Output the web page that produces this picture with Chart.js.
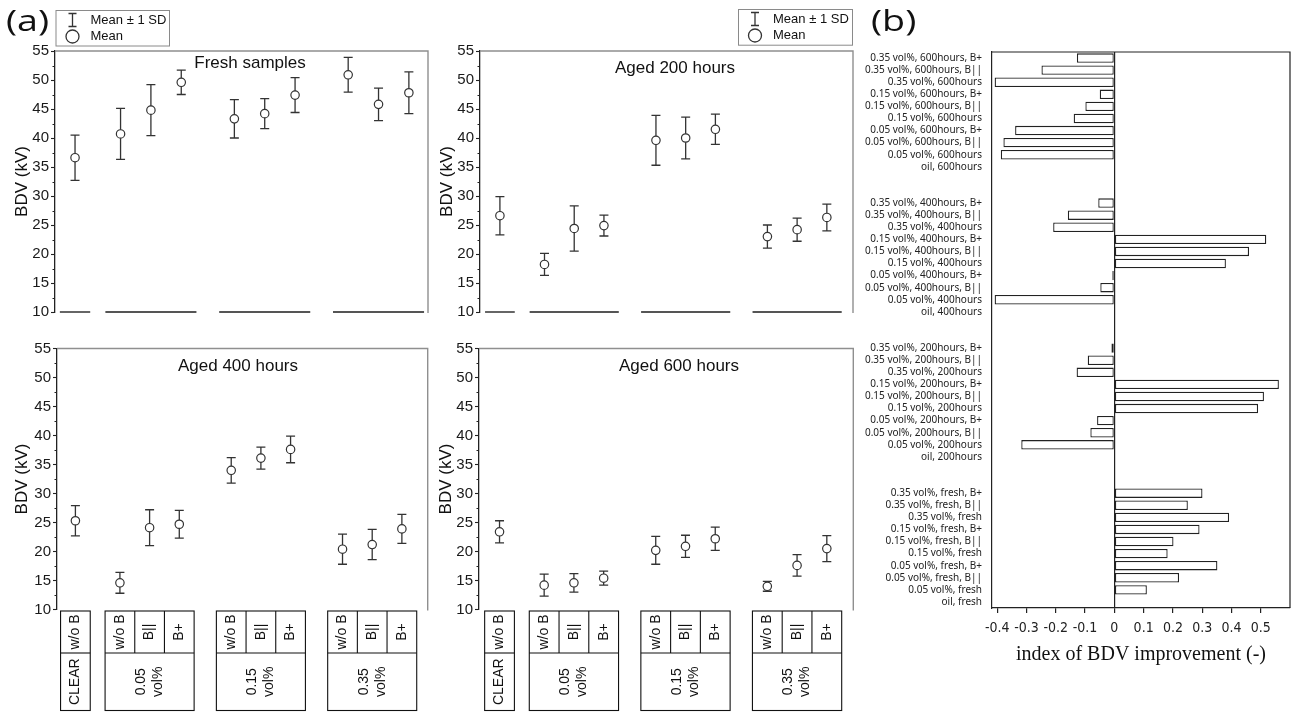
<!DOCTYPE html>
<html><head><meta charset="utf-8">
<script src="https://cdn.jsdelivr.net/npm/chart.js@4.4.1/dist/chart.umd.min.js"></script>
<style>
html,body{margin:0;padding:0;background:#fff;}
body{width:1297px;height:712px;position:relative;overflow:hidden;}
canvas{position:absolute;}
</style></head><body>
<canvas id="cTL" width="440" height="330" style="left:0;top:0"></canvas>
<canvas id="cTR" width="440" height="330" style="left:425px;top:0"></canvas>
<canvas id="cBL" width="440" height="387" style="left:0;top:325px"></canvas>
<canvas id="cBR" width="441" height="387" style="left:424px;top:325px"></canvas>
<canvas id="cB" width="437" height="712" style="left:860px;top:0"></canvas>
<script>
// ---------- DATA : panel (a) ----------
// x positions of the ten samples: CLEAR | 0.05 vol% (w/o B, B||, B+) | 0.15 vol% (...) | 0.35 vol% (...)
const samplePos = [0, 1.5, 2.5, 3.5, 5.25, 6.25, 7.25, 9, 10, 11];
const freshMean = [36.6, 40.7, 44.8, 49.6, 43.3, 44.2, 47.4, 50.9, 45.8, 47.8];
const freshSD   = [3.9, 4.4, 4.4, 2.1, 3.3, 2.6, 3.0, 3.0, 2.8, 3.6];
const aged200Mean = [26.6, 18.2, 24.4, 24.9, 39.6, 40.0, 41.5, 23.0, 24.2, 26.3];
const aged200SD   = [3.3, 1.9, 3.9, 1.8, 4.3, 3.6, 2.6, 2.0, 2.0, 2.3];
const aged400Mean = [25.3, 14.6, 24.1, 24.7, 34.0, 36.1, 37.6, 20.4, 21.2, 23.9];
const aged400SD   = [2.6, 1.8, 3.1, 2.4, 2.2, 1.9, 2.3, 2.6, 2.6, 2.5];
const aged600Mean = [23.4, 14.2, 14.6, 15.4, 20.2, 20.9, 22.2, 14.0, 17.6, 20.5];
const aged600SD   = [1.9, 1.9, 1.6, 1.2, 2.4, 1.9, 2.0, 0.85, 1.85, 2.25];
const yTicksA = [10, 15, 20, 25, 30, 35, 40, 45, 50, 55];
const yMinorA = [12.5, 17.5, 22.5, 27.5, 32.5, 37.5, 42.5, 47.5, 52.5];
// category table under the panels
const groupFrom   = [-0.5, 1, 4.75, 8.5];
const groupTo     = [0.5, 4, 7.75, 11.5];
const groupLabels = [['CLEAR'], ['0.05', 'vol%'], ['0.15', 'vol%'], ['0.35', 'vol%']];
const groupCells  = [['w/o B'], ['w/o B', 'B||', 'B+'], ['w/o B', 'B||', 'B+'], ['w/o B', 'B||', 'B+']];
const legendTexts = ['Mean \u00b1 1 SD', 'Mean'];

// ---------- DATA : panel (b) ----------
const bLabels = [
 '0.35 vol%, 600hours, B+','0.35 vol%, 600hours, B||','0.35 vol%, 600hours',
 '0.15 vol%, 600hours, B+','0.15 vol%, 600hours, B||','0.15 vol%, 600hours',
 '0.05 vol%, 600hours, B+','0.05 vol%, 600hours, B||','0.05 vol%, 600hours','oil, 600hours',
 '','',
 '0.35 vol%, 400hours, B+','0.35 vol%, 400hours, B||','0.35 vol%, 400hours',
 '0.15 vol%, 400hours, B+','0.15 vol%, 400hours, B||','0.15 vol%, 400hours',
 '0.05 vol%, 400hours, B+','0.05 vol%, 400hours, B||','0.05 vol%, 400hours','oil, 400hours',
 '','',
 '0.35 vol%, 200hours, B+','0.35 vol%, 200hours, B||','0.35 vol%, 200hours',
 '0.15 vol%, 200hours, B+','0.15 vol%, 200hours, B||','0.15 vol%, 200hours',
 '0.05 vol%, 200hours, B+','0.05 vol%, 200hours, B||','0.05 vol%, 200hours','oil, 200hours',
 '','',
 '0.35 vol%, fresh, B+','0.35 vol%, fresh, B||','0.35 vol%, fresh',
 '0.15 vol%, fresh, B+','0.15 vol%, fresh, B||','0.15 vol%, fresh',
 '0.05 vol%, fresh, B+','0.05 vol%, fresh, B||','0.05 vol%, fresh','oil, fresh'
];
const bValues = [
 -0.128, -0.249, -0.409, -0.050, -0.099, -0.139, -0.339, -0.379, -0.388, 0,
 null, null,
 -0.055, -0.159, -0.209, 0.519, 0.460, 0.381, -0.007, -0.048, -0.409, 0,
 null, null,
 -0.010, -0.091, -0.129, 0.562, 0.511, 0.491, -0.059, -0.082, -0.318, 0,
 null, null,
 0.301, 0.251, 0.392, 0.291, 0.202, 0.182, 0.352, 0.221, 0.111, 0
];
const bTicks = [-0.4, -0.3, -0.2, -0.1, 0, 0.1, 0.2, 0.3, 0.4, 0.5];

// ---------- plugins ----------
const SANS = '"Liberation Sans", Arial, sans-serif';
const LETTER_FONT = '29px "Open Sans", "Noto Sans", sans-serif';
const errorBars = {
  id: 'errorBars',
  beforeDatasetsDraw(chart) {
    const {ctx, scales: {x, y}} = chart;
    chart.data.datasets.forEach(ds => {
      if (!ds.sd) return;
      ctx.save();
      ctx.strokeStyle = '#333'; ctx.lineWidth = 1.3;
      ds.data.forEach((p, i) => {
        const px = x.getPixelForValue(p.x);
        const t = y.getPixelForValue(p.y + ds.sd[i]);
        const b = y.getPixelForValue(p.y - ds.sd[i]);
        ctx.beginPath();
        ctx.moveTo(px, t); ctx.lineTo(px, b);
        ctx.moveTo(px - 4.5, t); ctx.lineTo(px + 4.5, t);
        ctx.moveTo(px - 4.5, b); ctx.lineTo(px + 4.5, b);
        ctx.stroke();
      });
      ctx.restore();
    });
  }
};

function drawLetter(ctx, text, x, y) {
  ctx.save();
  ctx.fillStyle = '#111'; ctx.font = LETTER_FONT;
  ctx.textAlign = 'left'; ctx.textBaseline = 'alphabetic';
  ctx.translate(x, y); ctx.scale(1.3, 1);
  ctx.fillText(text, 0, 0);
  ctx.restore();
}

function drawLegend(ctx, L) {
  ctx.strokeStyle = '#8a8a8a'; ctx.lineWidth = 1;
  ctx.strokeRect(L.x + 0.5, L.y + 0.5, L.w, L.h);
  const sx = L.x + 17;
  ctx.strokeStyle = '#333'; ctx.lineWidth = 1.3;
  ctx.beginPath();
  ctx.moveTo(sx, L.y + 3.5); ctx.lineTo(sx, L.y + 16.5);
  ctx.moveTo(sx - 4, L.y + 3.5); ctx.lineTo(sx + 4, L.y + 3.5);
  ctx.moveTo(sx - 4, L.y + 16.5); ctx.lineTo(sx + 4, L.y + 16.5);
  ctx.stroke();
  ctx.beginPath(); ctx.arc(sx, L.y + 26.5, 6.5, 0, Math.PI * 2);
  ctx.fillStyle = '#fff'; ctx.fill(); ctx.stroke();
  ctx.fillStyle = '#111'; ctx.font = '13px ' + SANS;
  ctx.textAlign = 'left'; ctx.textBaseline = 'middle';
  ctx.fillText(legendTexts[0], L.x + 35, L.y + 10);
  ctx.fillText(legendTexts[1], L.x + 35, L.y + 26.5);
}

const panelDecor = {
  id: 'panelDecor',
  afterDraw(chart, args, o) {
    const {ctx, chartArea: a, scales: {x, y}} = chart;
    ctx.save();
    // frame (top + right)
    ctx.strokeStyle = '#8f8f8f'; ctx.lineWidth = 1.4;
    ctx.beginPath(); ctx.moveTo(a.left, a.top); ctx.lineTo(a.right, a.top); ctx.lineTo(a.right, a.bottom + 1); ctx.stroke();
    // minor ticks
    ctx.strokeStyle = '#222'; ctx.lineWidth = 1;
    yMinorA.forEach(v => { const py = Math.round(y.getPixelForValue(v)) + 0.5; ctx.beginPath(); ctx.moveTo(a.left - 2.5, py); ctx.lineTo(a.left, py); ctx.stroke(); });
    // title
    ctx.fillStyle = '#111'; ctx.font = '17px ' + SANS; ctx.textAlign = 'center'; ctx.textBaseline = 'middle';
    ctx.fillText(o.title, a.left + o.titleDX, a.top + o.titleDY);
    // groups / table
    if (!o.table) {
      ctx.strokeStyle = '#555'; ctx.lineWidth = 1.8;
      groupFrom.forEach((f, i) => {
        ctx.beginPath(); ctx.moveTo(x.getPixelForValue(f), a.bottom); ctx.lineTo(x.getPixelForValue(groupTo[i]), a.bottom); ctx.stroke();
      });
    } else {
      const top = a.bottom + 1.5, mid = a.bottom + 43.5, bot = chart.height - 1.5;
      ctx.strokeStyle = '#111'; ctx.lineWidth = 1.1;
      ctx.fillStyle = '#111'; ctx.font = '14px ' + SANS; ctx.textAlign = 'center'; ctx.textBaseline = 'middle';
      groupFrom.forEach((f, i) => {
        const x0 = x.getPixelForValue(f), x1 = x.getPixelForValue(groupTo[i]);
        ctx.strokeRect(x0, top, x1 - x0, bot - top);
        ctx.beginPath(); ctx.moveTo(x0, mid); ctx.lineTo(x1, mid); ctx.stroke();
        const cells = groupCells[i], n = cells.length, cw = (x1 - x0) / n;
        cells.forEach((c, j) => {
          if (j > 0) { ctx.beginPath(); ctx.moveTo(x0 + j * cw, top); ctx.lineTo(x0 + j * cw, mid); ctx.stroke(); }
          ctx.save(); ctx.translate(x0 + (j + 0.5) * cw, (top + mid) / 2); ctx.rotate(-Math.PI / 2);
          ctx.fillText(c, 0, 0); ctx.restore();
        });
        const lines = groupLabels[i], lh = 17;
        ctx.save(); ctx.translate((x0 + x1) / 2, (mid + bot) / 2); ctx.rotate(-Math.PI / 2);
        lines.forEach((t, k) => ctx.fillText(t, 0, (k - (lines.length - 1) / 2) * lh));
        ctx.restore();
      });
    }
    if (o.legend) drawLegend(ctx, o.legend);
    if (o.letter) drawLetter(ctx, o.letter.text, o.letter.x, o.letter.y);
    ctx.restore();
  }
};

function makePanel(id, mean, sd, cfg) {
  return new Chart(document.getElementById(id), {
    type: 'scatter',
    data: { datasets: [{
      data: samplePos.map((p, i) => ({x: p, y: mean[i]})),
      sd: sd,
      pointRadius: 4.2, pointBorderWidth: 1.2,
      pointBackgroundColor: '#fff', pointBorderColor: '#333'
    }]},
    options: {
      responsive: false, animation: false, events: [],
      layout: { padding: cfg.pad },
      plugins: { legend: {display: false}, tooltip: {enabled: false}, panelDecor: cfg.decor },
      scales: {
        x: { type: 'linear', min: cfg.xmin, max: cfg.xmax, display: false },
        y: {
          min: 10, max: 55,
          afterBuildTicks: s => { s.ticks = yTicksA.map(v => ({value: v})); },
          afterFit: s => { s.width = cfg.yw; },
          ticks: { font: {family: SANS, size: 15}, color: '#1a1a1a', padding: 2 },
          grid: { drawOnChartArea: false, tickLength: 4, tickColor: '#222', tickWidth: 1.1 },
          border: { color: '#222', width: 1.3 },
          title: { display: true, text: 'BDV (kV)', font: {family: SANS, size: 17}, color: '#111', padding: {top: cfg.titlePad, bottom: 0} }
        }
      }
    },
    plugins: [errorBars, panelDecor]
  });
}

makePanel('cTL', freshMean, freshSD, {
  xmin: -0.66, xmax: 11.63, yw: 55, titlePad: 12,
  pad: {top: 51, right: 12, bottom: 18, left: 0},
  decor: {title: 'Fresh samples', titleDX: 195, titleDY: 12, table: false,
          legend: {x: 55.5, y: 10, w: 113.5, h: 35.5}, letter: {text: '(a)', x: 6, y: 31}}
});
makePanel('cTR', aged200Mean, aged200SD, {
  xmin: -0.67, xmax: 11.88, yw: 55, titlePad: 12,
  pad: {top: 51, right: 12, bottom: 18, left: 0},
  decor: {title: 'Aged 200 hours', titleDX: 195, titleDY: 17, table: false,
          legend: {x: 313, y: 9, w: 114, h: 35.7}}
});
makePanel('cBL', aged400Mean, aged400SD, {
  xmin: -0.62, xmax: 11.87, yw: 57, titlePad: 12,
  pad: {top: 23.5, right: 12.3, bottom: 102.5, left: 0},
  decor: {title: 'Aged 400 hours', titleDX: 181, titleDY: 18, table: true}
});
makePanel('cBR', aged600Mean, aged600SD, {
  xmin: -0.69, xmax: 11.89, yw: 55, titlePad: 12,
  pad: {top: 23.5, right: 11.7, bottom: 102.5, left: 0},
  decor: {title: 'Aged 600 hours', titleDX: 200, titleDY: 18, table: true}
});

// ---------- panel (b) ----------
const frameB = {
  id: 'frameB',
  afterDraw(chart) {
    const {ctx, chartArea: a} = chart;
    ctx.save();
    ctx.strokeStyle = '#222'; ctx.lineWidth = 1.2;
    ctx.beginPath(); ctx.moveTo(a.left, a.top); ctx.lineTo(a.right, a.top); ctx.lineTo(a.right, a.bottom); ctx.stroke();
    ctx.restore();
    drawLetter(ctx, '(b)', 11, 31);
  }
};
new Chart(document.getElementById('cB'), {
  type: 'bar',
  data: { labels: bLabels, datasets: [{
    data: bValues, backgroundColor: '#fff', borderColor: '#222', borderWidth: 1.3,
    borderSkipped: false, barPercentage: 0.78, categoryPercentage: 1
  }]},
  options: {
    indexAxis: 'y', responsive: false, animation: false, events: [],
    layout: { padding: {top: 52, right: 7, left: 0, bottom: 0} },
    plugins: { legend: {display: false}, tooltip: {enabled: false} },
    scales: {
      x: {
        type: 'linear', min: -0.418, max: 0.6,
        afterBuildTicks: s => { s.ticks = bTicks.map(v => ({value: v})); },
        afterFit: s => { s.height = 104; },
        ticks: { callback: v => (Math.abs(v) < 1e-9 ? '0' : v.toFixed(1)), maxRotation: 0, autoSkip: false,
                 font: {family: '"Liberation Sans Narrow", "DejaVu Sans Condensed", "Liberation Sans", sans-serif', size: 14}, color: '#222', padding: 7 },
        grid: { color: c => (c.tick && Math.abs(c.tick.value) < 1e-9 ? '#222' : 'rgba(0,0,0,0)'),
                lineWidth: 1.2, tickColor: '#222', tickLength: 5, drawOnChartArea: true },
        border: { color: '#222', width: 1.2 },
        title: { display: true, text: 'index of BDV improvement (-)', color: '#111',
                 font: {family: '"Liberation Serif", "DejaVu Serif", serif', size: 20}, padding: {top: 0, bottom: 45} }
      },
      y: {
        afterFit: s => { s.width = 132; },
        ticks: { autoSkip: false, font: {family: '"Noto Sans", sans-serif', size: 10}, color: '#222', padding: 10 },
        grid: { display: false, drawTicks: false },
        border: { color: '#222', width: 1.2 }
      }
    }
  },
  plugins: [frameB]
});
</script>
</body></html>
